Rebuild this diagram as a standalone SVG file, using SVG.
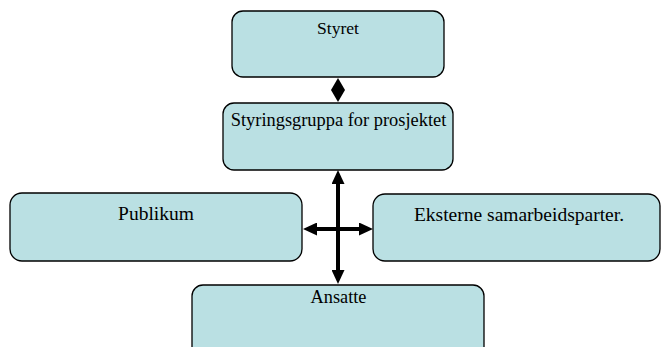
<svg xmlns="http://www.w3.org/2000/svg" width="661" height="347" viewBox="0 0 661 347">
  <defs>
    <style>
      .box { fill: #BAE0E3; stroke: #000; stroke-width: 1.3; }
      .lbl { font-family: "Liberation Serif", "Times New Roman", serif; fill: #000; text-anchor: middle; }
      .conn { stroke: #000; stroke-width: 4; fill: none; }
    </style>
    <marker id="arr" viewBox="0 0 14 13" markerWidth="14" markerHeight="13" refX="4" refY="6.5" orient="auto-start-reverse" markerUnits="userSpaceOnUse">
      <path d="M0,0 L14,6.5 L0,13 z" fill="#000"/>
    </marker>
  </defs>
  <rect width="661" height="347" fill="#fff"/>

  <g id="styret">
    <rect class="box" x="232" y="11" width="212" height="66" rx="11"/>
    <text class="lbl" x="338" y="34" font-size="17.6">Styret</text>
  </g>
  <g id="styringsgruppa">
    <rect class="box" x="223" y="103" width="230" height="67" rx="11"/>
    <text class="lbl" x="338.5" y="126" font-size="18.4">Styringsgruppa for prosjektet</text>
  </g>
  <g id="publikum">
    <rect class="box" x="10" y="193" width="292" height="68" rx="12"/>
    <text class="lbl" x="156" y="220" font-size="19.5">Publikum</text>
  </g>
  <g id="eksterne">
    <rect class="box" x="373" y="194" width="287" height="67" rx="12"/>
    <text class="lbl" x="519" y="221" font-size="19.5">Eksterne samarbeidsparter.</text>
  </g>
  <g id="ansatte">
    <rect class="box" x="192" y="285" width="292" height="75" rx="11"/>
    <text class="lbl" x="338.5" y="303" font-size="18.3">Ansatte</text>
  </g>

  <g id="connectors">
    <path d="M338,78 L345,90 L338,102 L331,90 z" fill="#000"/>
    <line class="conn" x1="338" y1="180" x2="338" y2="274" marker-start="url(#arr)" marker-end="url(#arr)"/>
    <line class="conn" x1="313" y1="229" x2="363" y2="229" marker-start="url(#arr)" marker-end="url(#arr)"/>
  </g>
</svg>
